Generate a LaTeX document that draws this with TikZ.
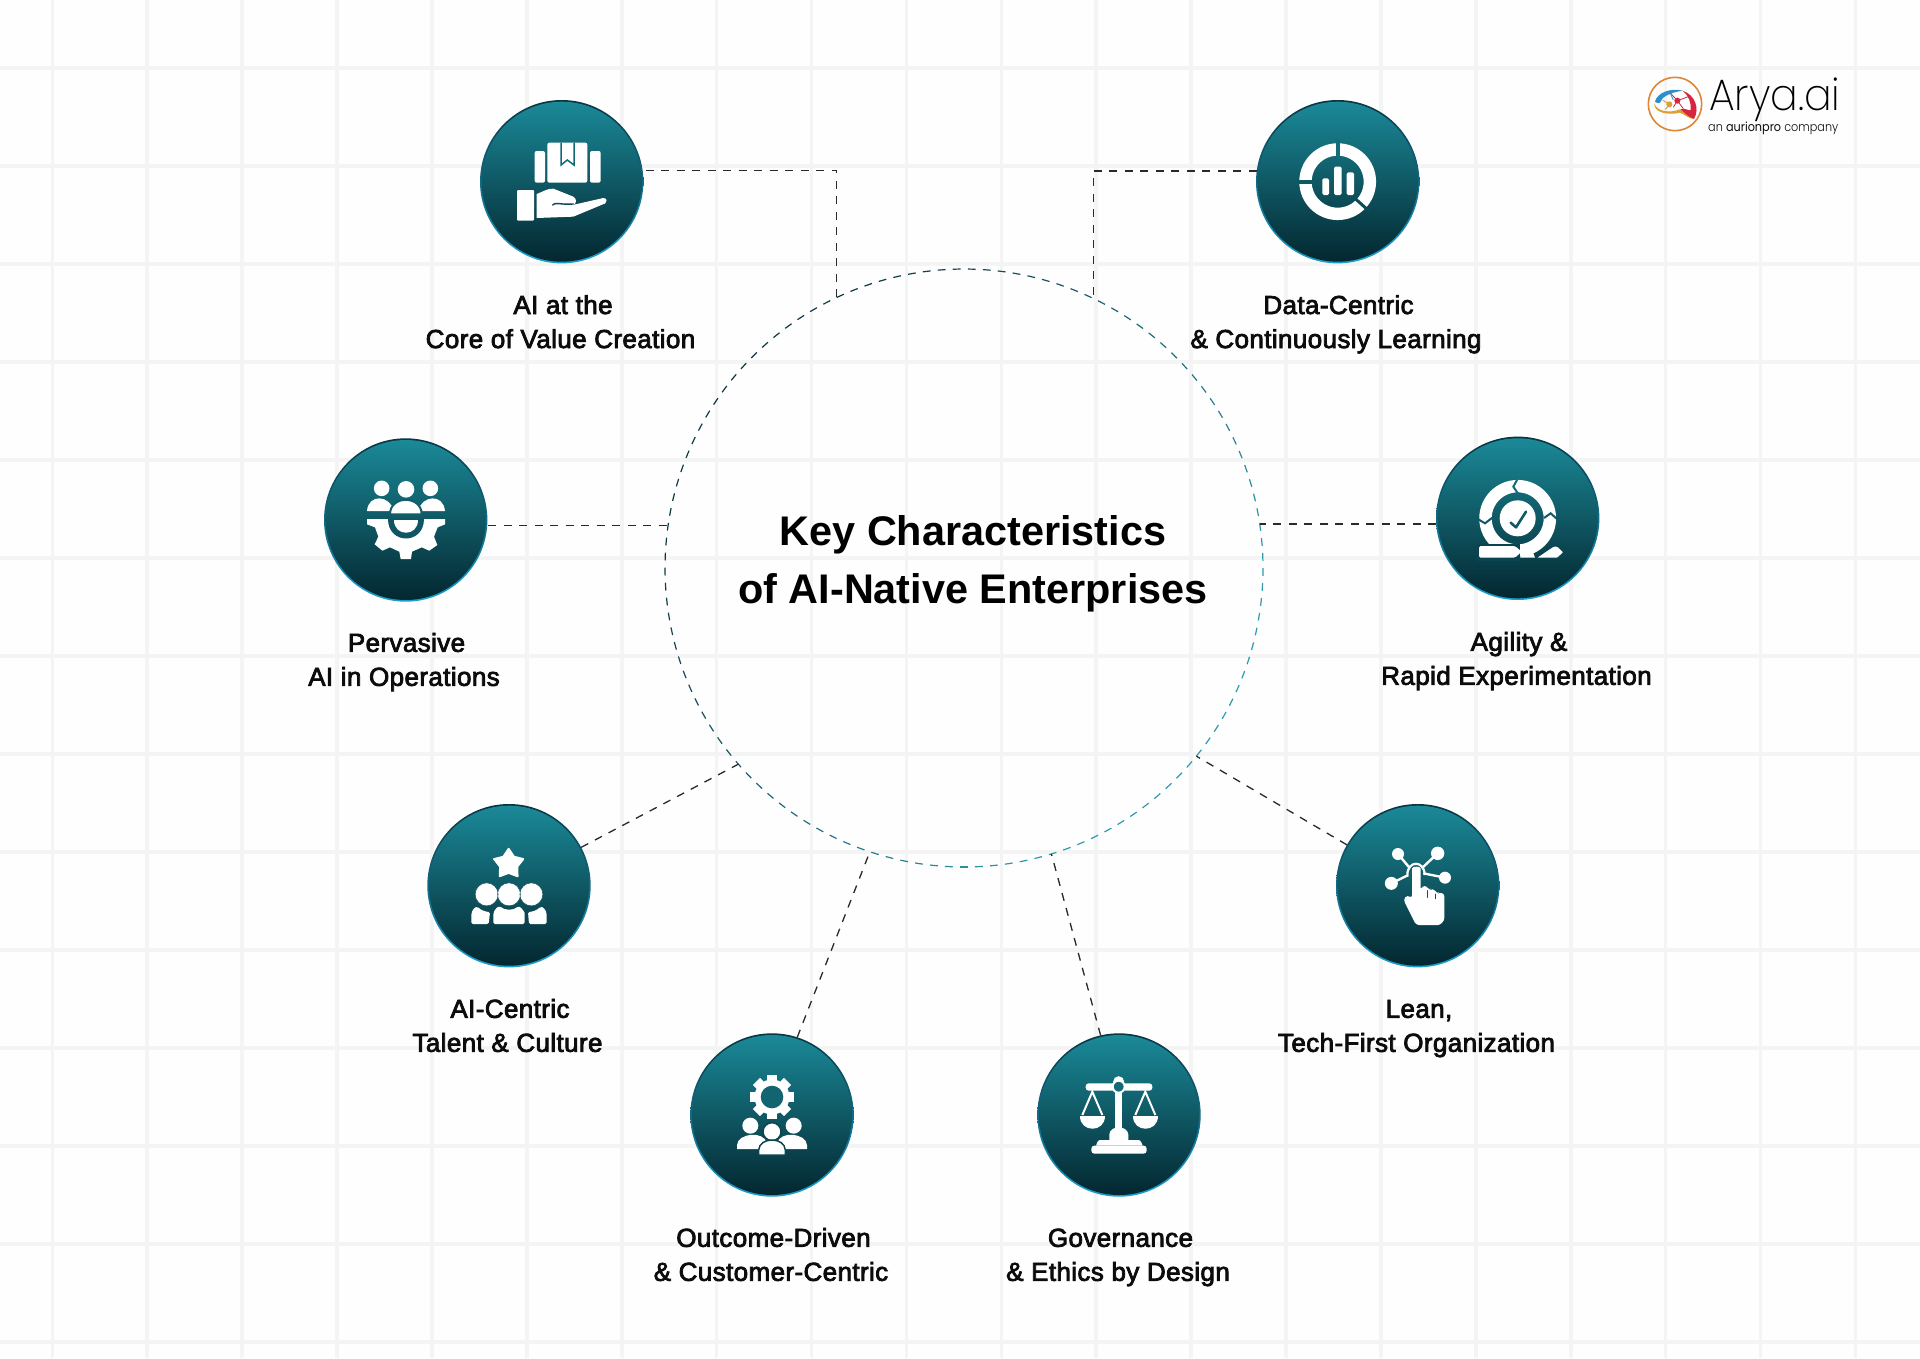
\documentclass[tikz,border=0pt]{standalone}
\usepackage{fontspec}
\usepackage{graphicx}
\setmainfont{Liberation Sans}
\newfontfamily\labfont[FakeBold=3,LetterSpace=1.5]{Liberation Sans}
\newfontfamily\titlefont{Liberation Sans Bold}
\newfontfamily\logofont{Poppins ExtraLight}
\newfontfamily\logosmall{Poppins}
\newfontfamily\logotag{Poppins Light}
\newcommand{\twolines}[2]{\hspace*{5pt}\strut #1\\\strut #2}
\definecolor{cT}{HTML}{1B8A99}
\definecolor{cB}{HTML}{03262F}
\definecolor{ringT}{HTML}{0A3540}
\definecolor{ringB}{HTML}{1A9FCB}
\definecolor{gridc}{HTML}{F4F4F4}
\definecolor{paper}{HTML}{FEFEFE}
\definecolor{ink}{HTML}{0C0C0C}
\definecolor{conn}{HTML}{2A2A2A}
\definecolor{hubA}{HTML}{0E3A44}
\definecolor{hubB}{HTML}{2F9BAD}
\tikzset{
  zf/.style 2 args={shift={(#1pt,-#2pt)},x=0.33333pt,y=-0.33333pt},
  gridline/.style={draw=gridc,line width=3.6pt},
  bubble/.style={circle,inner sep=0pt,outer sep=0pt,minimum size=163.4pt,top color=ringT,bottom color=ringB,
    path picture={\shade[top color=cT,bottom color=cB] (path picture bounding box.center) circle[radius=80pt];}},
  link/.style={draw=conn,line width=1.3pt,dash pattern=on 8pt off 7.5pt},
  lab/.style={text=ink,align=center,inner sep=0pt,font=\labfont\fontsize{26}{34}\selectfont},
  ttl/.style={text=black,align=center,inner sep=0pt,font=\titlefont\fontsize{41.4}{58}\selectfont},
}
\begin{document}
\begin{tikzpicture}[x=1pt,y=-1pt]
\useasboundingbox (0,0) rectangle (1920,1358);
\fill[paper] (0,0) rectangle (1920,1358);
\foreach \i in {0,...,19} {\draw[gridline] ({52.3+94.9*\i},0) -- ({52.3+94.9*\i},1358);}
\foreach \i in {0,...,13} {\draw[gridline] (0,{67.7+98*\i}) -- (1920,{67.7+98*\i});}

% hub
\node[circle,minimum size=598pt,inner sep=0pt,outer sep=0pt] (hub) at (964,568) {};
\foreach \i in {0,...,124} {
  \pgfmathsetmacro{\a}{\i*2.88}
  \pgfmathsetmacro{\t}{max(0,min(100,50+62*(0.80*cos(\a)+0.60*sin(\a))))}
  \draw[color=hubB!\t!hubA,line width=1.2pt] ({964+299*cos(\a)},{568+299*sin(\a)}) -- ({964+299*cos(\a+1.5)},{568+299*sin(\a+1.5)});
}
\node[ttl] (title) at (973,564) {Key Characteristics\\of AI-Native Enterprises};

% bubbles
\node[bubble] (c1) at (561.7,181.7) {};
\node[bubble] (c2) at (1337.7,181.7) {};
\node[bubble] (c3) at (405.7,520) {};
\node[bubble] (c4) at (1517.7,518.3) {};
\node[bubble] (c5) at (509,885.7) {};
\node[bubble] (c6) at (1417.7,885.7) {};
\node[bubble] (c7) at (772,1115) {};
\node[bubble] (c8) at (1119,1115) {};

% connectors
\draw[link,shorten <=3pt] (c1.8) -| ([xshift=-1pt]hub.115);
\draw[link] ([yshift=-0.7pt]c2.172) -| ([xshift=-1.5pt]hub.64);
\draw[link,shorten <=1pt] (c3.-4) -- (c3.-4 -| hub.172);
\draw[link] (c4.184) -- (c4.184 -| hub.8);
\draw[link] (c5.28) -- (hub.221);
\draw[link] (c6.150) -- (hub.-39);
\draw[link] (c7.72) -- ([xshift=-2pt]hub.252);
\draw[link] (c8.103) -- (hub.-73);

% labels
\node[lab] (l1) at (560.5,324.2) {\twolines{AI at the}{Core of Value Creation}};
\node[lab] (l2) at (1336,324.2) {\twolines{Data-Centric}{\& Continuously Learning}};
\node[lab] (l3) at (404,662) {\twolines{Pervasive}{AI in Operations}};
\node[lab] (l4) at (1516.5,661) {\twolines{Agility \&}{Rapid Experimentation}};
\node[lab] (l5) at (507.5,1028) {\twolines{AI-Centric}{Talent \& Culture}};
\node[lab] (l6) at (1416.5,1028) {\twolines{Lean,}{Tech-First Organization}};
\node[lab] (l7) at (771,1257) {\twolines{Outcome-Driven}{\& Customer-Centric}};
\node[lab] (l8) at (1118,1257) {\twolines{Governance}{\& Ethics by Design}};

% icon 1
\begin{scope}[zf={460}{90}]
 \fill[white,rounded corners=2pt] (262,158) rectangle (382,278);
 \fill[white,rounded corners=2pt] (224,183) rectangle (255,278);
 \fill[white,rounded corners=2pt] (390,183) rectangle (422,278);
 \draw[cB!32!cT,line width=1.5pt] (303,158) -- (303,225) -- (322,210) -- (342,225) -- (342,158);
 \fill[white,rounded corners=1pt] (171,300) rectangle (222,392);
 \fill[white] (230,384) -- (230,312) .. controls (250,305) and (262,295) .. (280,296) -- (340,320)
   .. controls (352,328) and (350,342) .. (338,345) -- (430,324) .. controls (442,324) and (442,336) .. (436,340)
   -- (340,380) -- cycle;
 \draw[cB!66!cT,line width=1.4pt,line cap=round] (278,345) .. controls (285,335) and (300,345) .. (340,342);
\end{scope}
% icon 2
\begin{scope}[zf={1240}{90}]
 \draw[white,line width=12.4pt] (293,275) circle[radius=32.2pt];
 \draw[cB!30!cT,line width=4pt] (293,150) -- (293,205);
 \draw[cB!50!cT,line width=4pt] (170,275) -- (222,275);
 \draw[cB!62!cT,line width=3pt] (348,328) -- (388,364);
 \fill[white,rounded corners=1.5pt] (247,265) rectangle (267,315);
 \fill[white,rounded corners=1.5pt] (282,230) rectangle (305,315);
 \fill[white,rounded corners=1.5pt] (320,247) rectangle (342,315);
\end{scope}
% icon 3
\begin{scope}[zf={310}{430}]
 \fill[white] (215,175) circle[radius=7.8pt] (361,175) circle[radius=7.8pt] (288,178) circle[radius=8.3pt];
 \fill[white] (171,243) .. controls (175,190) and (240,195) .. (252,243) -- cycle;
 \fill[white] (324,243) .. controls (336,195) and (400,190) .. (405,243) -- cycle;
 \filldraw[fill=white,draw=cB!44!cT,line width=2pt] (240,253) .. controls (240,195) and (335,195) .. (335,253) -- cycle;
 \fill[white] (171,267) -- (405,267) -- (405,283) -- (383,292) -- (372,320) -- (382,345) -- (358,362) -- (335,352) -- (306,365) -- (303,387) -- (272,387) -- (268,365) -- (240,352) -- (217,362) -- (194,343) -- (205,320) -- (195,292) -- (171,283) -- cycle;
 \fill[cB!52!cT] (233,267) -- (343,267) .. controls (343,345) and (233,345) .. (233,267) -- cycle;
 \fill[white] (251,270) -- (325,270) .. controls (325,320) and (251,320) .. (251,270) -- cycle;
\end{scope}
% icon 4
\begin{scope}[zf={1420}{430}]
 \draw[white,line width=12.4pt] (293,265) circle[radius=32.2pt];
 \fill[white] (293,265) circle[radius=18pt];
 \draw[cB!48!cT,line width=2.6pt,line cap=round,line join=round] (272,278) -- (288,292) -- (318,245);
 \draw[cB!30!cT,line width=2pt] (292,148) -- (280,170) -- (295,192);
 \draw[cB!50!cT,line width=2pt] (175,268) -- (195,280) -- (217,263);
 \draw[cB!48!cT,line width=2pt] (372,264) -- (392,250) -- (412,268);
 \fill[cB!70!cT] (170,342) rectangle (300,392);
 \fill[white,rounded corners=1.5pt] (177,348) -- (285,348) -- (305,365) -- (285,383) -- (177,383) -- cycle;
 \fill[white] (300,383) -- (314,365) -- (305,348) -- (330,343) -- (345,383) -- cycle;
 \filldraw[fill=white,draw=cB!70!cT,line width=1.3pt,rounded corners=1pt] (345,385) -- (400,348) -- (413,348) -- (432,367) -- (413,385) -- cycle;
\end{scope}
% icon 5
\begin{scope}[zf={410}{800}]
 \filldraw[fill=white,draw=white,line width=1.8pt,line join=round] (296,146) -- (312,170) -- (340,177) -- (322,200) -- (323,229) -- (296,219) -- (269,229) -- (270,200) -- (252,177) -- (280,170) -- cycle;
 \fill[white,rounded corners=1.5pt] (184,372) -- (184,345) .. controls (186,330) and (195,322) .. (203,320) .. controls (212,330) and (225,335) .. (240,336) -- (236,372) -- cycle;
 \fill[white,rounded corners=1.5pt] (410,372) -- (410,345) .. controls (408,330) and (400,322) .. (391,320) .. controls (382,330) and (369,335) .. (354,336) -- (357,372) -- cycle;
 \fill[white,rounded corners=1.5pt] (250,372) -- (250,345) .. controls (252,330) and (262,322) .. (268,318) .. controls (285,332) and (310,332) .. (326,318) .. controls (335,325) and (344,335) .. (344,345) -- (344,372) -- cycle;
 \filldraw[fill=white,draw=cB!52!cT,line width=0.5pt] (230,283) circle[radius=11.5pt] (364,283) circle[radius=11.5pt] (297,283) circle[radius=11.5pt];
\end{scope}
% icon 6
\begin{scope}[zf={1320}{800}]
 \draw[white,line width=2.4pt] (234,162) -- (270,205) (353,160) -- (305,205) (375,233) -- (310,220) (214,250) -- (265,225);
 \fill[white] (234,162) circle[radius=6pt] (353,160) circle[radius=6.7pt] (375,233) circle[radius=6pt] (214,250) circle[radius=6.5pt];
 \draw[white,line width=2.2pt] (262,225) .. controls (262,180) and (314,180) .. (314,225);
 \draw[cB!42!cT,line width=2pt] (270,235) -- (270,215);
 \fill[white,rounded corners=3pt] (276,295) -- (276,215) .. controls (276,198) and (302,198) .. (302,215) -- (302,272) -- (306,258) -- (322,258) -- (326,272) -- (330,268) -- (345,268) -- (350,282) -- (356,278) -- (373,280) -- (373,345) .. controls (373,365) and (360,375) .. (345,375) -- (288,375) -- (268,335) -- (250,298) -- (262,285) -- cycle;
 \draw[cB!60!cT,line width=0.9pt,line cap=round] (322,272) -- (322,292) (346,282) -- (346,296);
\end{scope}
% icon 7
\begin{scope}[zf={672}{1025}]
 \foreach \r in {0,45,...,315} {\fill[white,rotate around={\r:(300,216)}] (285,150) rectangle (315,180);}
 \fill[white] (300,216) circle[radius=17.5pt];
 \fill[cB!38!cT] (300,216) circle[radius=11.3pt];
 \fill[white] (235,302) circle[radius=8pt] (365,302) circle[radius=8pt];
 \fill[white] (195,372) -- (195,360) .. controls (197,325) and (275,315) .. (285,355) -- (285,372) -- cycle;
 \fill[white] (405,372) -- (405,360) .. controls (403,325) and (325,315) .. (315,355) -- (315,372) -- cycle;
 \filldraw[fill=white,draw=cB!66!cT,line width=1.5pt] (300,320) circle[radius=9pt];
 \filldraw[fill=white,draw=cB!68!cT,line width=1.5pt] (260,390) -- (260,375) .. controls (262,335) and (338,335) .. (340,375) -- (340,390) -- cycle;
\end{scope}
% icon 8
\begin{scope}[zf={1020}{1025}]
 \fill[white,rounded corners=3pt] (197,175) rectangle (397,197);
 \fill[white] (296,170) circle[radius=5.5pt];
 \fill[white] (285,190) rectangle (307,320);
 \filldraw[fill=cB!32!cT,draw=white,line width=2pt] (296,185) circle[radius=6pt];
 \fill[white] (268,345) -- (268,328) .. controls (270,300) and (322,300) .. (325,328) -- (325,345) -- (355,345) .. controls (362,345) and (366,355) .. (368,362) -- (228,362) .. controls (228,355) and (235,345) .. (240,345) -- cycle;
 \fill[white,rounded corners=3pt] (214,362) rectangle (380,386);
 \fill[white] (181,272) -- (254,272) .. controls (254,323) and (181,323) .. (181,272) -- cycle;
 \fill[white] (340,272) -- (413,272) .. controls (413,323) and (340,323) .. (340,272) -- cycle;
 \draw[white,line width=2pt] (187,270) -- (217,200) -- (247,270);
 \draw[white,line width=2pt] (346,270) -- (376,200) -- (406,270);
\end{scope}
% logo
\begin{scope}[zf={1620}{50}]
 \draw[color={rgb,255:red,222;green,134;blue,52},line width=1.6pt] (165,162) circle[radius=26.7pt];
 \fill[color={rgb,255:red,222;green,160;blue,50}] (103,160) .. controls (110,185) and (150,190) .. (180,178) .. controls (195,176) and (210,190) .. (222,207) .. controls (205,207) and (195,192) .. (178,188) .. controls (150,196) and (100,190) .. (103,160) -- cycle;
 \fill[color={rgb,255:red,42;green,143;blue,203}] (105,155) .. controls (110,130) and (150,112) .. (188,122) .. controls (150,128) and (125,140) .. (120,158) .. controls (115,160) and (110,160) .. (105,155) -- cycle;
 \fill[color={rgb,255:red,216;green,37;blue,63}] (188,122) .. controls (225,135) and (240,175) .. (222,207) .. controls (205,200) and (195,190) .. (182,178) .. controls (195,172) and (210,185) .. (212,180) .. controls (215,160) and (205,135) .. (188,122) -- cycle;
 \draw[color={rgb,255:red,216;green,37;blue,63},line width=0.8pt] (150,128) -- (172,152) -- (205,140) (172,152) -- (190,176) (172,152) -- (160,172);
 \draw[color={rgb,255:red,42;green,143;blue,203},line width=0.8pt] (120,140) -- (150,128) -- (160,150);
 \draw[color={rgb,255:red,222;green,160;blue,50},line width=0.9pt] (128,150) -- (150,165) -- (135,178);
 \fill[color={rgb,255:red,216;green,37;blue,63}] (172,152) circle[radius=3pt];
 \fill[color={rgb,255:red,222;green,160;blue,50}] (148,163) circle[radius=3pt];
\end{scope}
\node[inner sep=0pt,anchor=base west,text=black] (logo) at (1709,110) {\scalebox{0.93}[1]{\logofont\fontsize{44}{44}\selectfont Arya.ai}};
\node[inner sep=0pt,anchor=base west,text=ink] (tag) at (1708,131) {\scalebox{0.9}[1]{\fontsize{12.5}{15}\selectfont\logotag an {\logosmall aurionpro} company}};
\end{tikzpicture}
\end{document}
